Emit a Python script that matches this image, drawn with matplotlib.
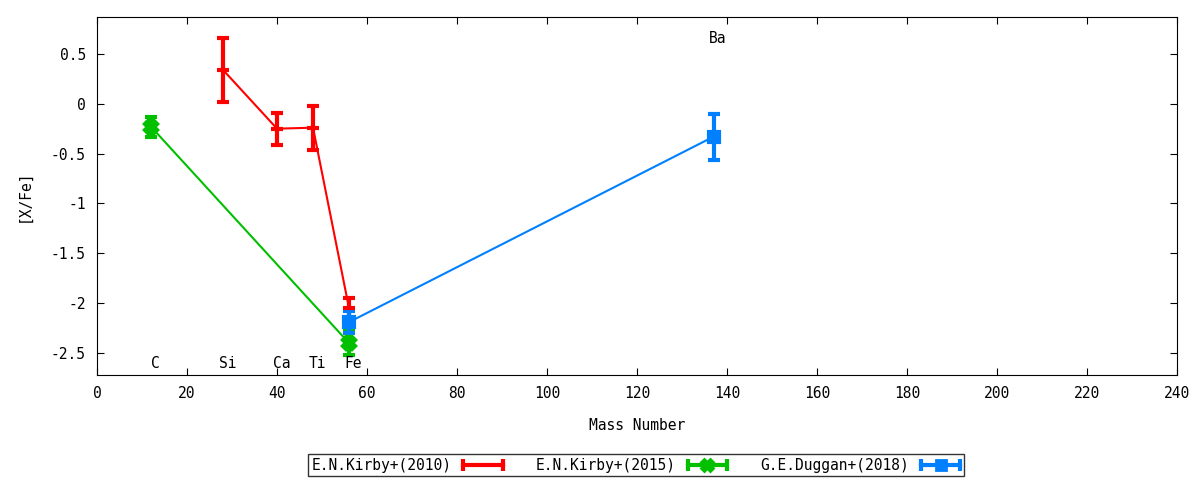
"""[X/Fe] against mass number for three abundance studies"""
import matplotlib
matplotlib.use("Agg")
import matplotlib.pyplot as plt
from matplotlib.legend_handler import HandlerBase
from matplotlib.lines import Line2D

plt.rcParams['font.family'] = ['DejaVu Sans Mono', 'DejaVu Sans']
plt.rcParams['font.size'] = 10.5

# E.N.Kirby+(2010): Si, Ca, Ti, Fe
kirby10_x = [28, 40, 48, 56]
kirby10_y = [0.34, -0.25, -0.24, -2.05]
kirby10_err = [0.32, 0.16, 0.22, 0.10]

# E.N.Kirby+(2015): C, Fe
kirby15_x = [12, 56]
kirby15_y = [-0.23, -2.40]
kirby15_err = [0.10, 0.12]

# G.E.Duggan+(2018): Fe, Ba
duggan_x = [56, 137]
duggan_y = [-2.19, -0.33]
duggan_err = [0.11, 0.23]

# element labels
elem_names = ["C", "Si", "Ca", "Ti", "Fe", "Ba"]
elem_x = [12, 28, 40, 48, 56, 137]
elem_y = [-2.6, -2.6, -2.6, -2.6, -2.6, 0.65]


class HandlerBar(HandlerBase):
    """gnuplot style key sample: thick horizontal bar with end caps"""

    def create_artists(self, legend, orig_handle, xdescent, ydescent,
                       width, height, fontsize, trans):
        col = orig_handle.get_color()
        mk = orig_handle.get_marker()
        ms = orig_handle.get_markersize()
        yc = height / 2 - ydescent
        x0, x1 = -xdescent, width - xdescent
        bar = Line2D([x0, x1], [yc, yc], color=col, lw=3, transform=trans)
        caps = Line2D([x0, x1], [yc, yc], color=col, ls="none", marker="|",
                      ms=9, mew=3, transform=trans)
        pt = Line2D([(x0 + x1) / 2], [yc], color=col, ls="none", marker=mk,
                    ms=ms, mew=2, transform=trans)
        return [bar, caps, pt]


def main():
    fig = plt.figure(figsize=(12, 4.8), dpi=100)
    ax = fig.add_axes([0.0808, 0.2188, 0.9002, 0.7458])

    series = [
        (kirby10_x, kirby10_y, kirby10_err, "#ff0000", "_", 9, "E.N.Kirby+(2010)"),
        (kirby15_x, kirby15_y, kirby15_err, "#00c000", "X", 8, "E.N.Kirby+(2015)"),
        (duggan_x, duggan_y, duggan_err, "#0080ff", "s", 7, "G.E.Duggan+(2018)"),
    ]
    handles, labels = [], []
    for xs, ys, es, col, mk, ms, lab in series:
        ax.errorbar(xs, ys, yerr=es, color=col, lw=1.5, elinewidth=3,
                    capsize=4.5, capthick=3, marker=mk, ms=ms, mew=3)
        handles.append(Line2D([], [], color=col, marker=mk,
                              ms=ms if mk != "_" else 7))
        labels.append(lab)

    for name, x, y in zip(elem_names, elem_x, elem_y):
        ax.text(x + 1, y, name, ha="center", va="center")

    ax.set_xlim(0, 240)
    ax.set_ylim(-2.72, 0.87)
    ax.set_xticks(range(0, 241, 20))
    ax.set_yticks([0.5, 0, -0.5, -1, -1.5, -2, -2.5])
    ax.set_yticklabels(["0.5", "0", "-0.5", "-1", "-1.5", "-2", "-2.5"])
    ax.tick_params(direction="in", top=True, right=True, length=5, pad=8)
    ax.set_xlabel("Mass Number", labelpad=12)
    ax.set_ylabel("[X/Fe]", labelpad=14)

    leg = fig.legend(handles, labels, loc="center",
                     bbox_to_anchor=(0.53, 0.031), ncol=3,
                     handler_map={Line2D: HandlerBar()},
                     markerfirst=False, fancybox=False, frameon=True,
                     edgecolor="black", borderpad=0.25, handlelength=2.7,
                     columnspacing=2.3, handletextpad=0.8, borderaxespad=0)
    leg.get_frame().set_linewidth(1)

    fig.savefig("out.png", dpi=100)


if __name__ == "__main__":
    main()
